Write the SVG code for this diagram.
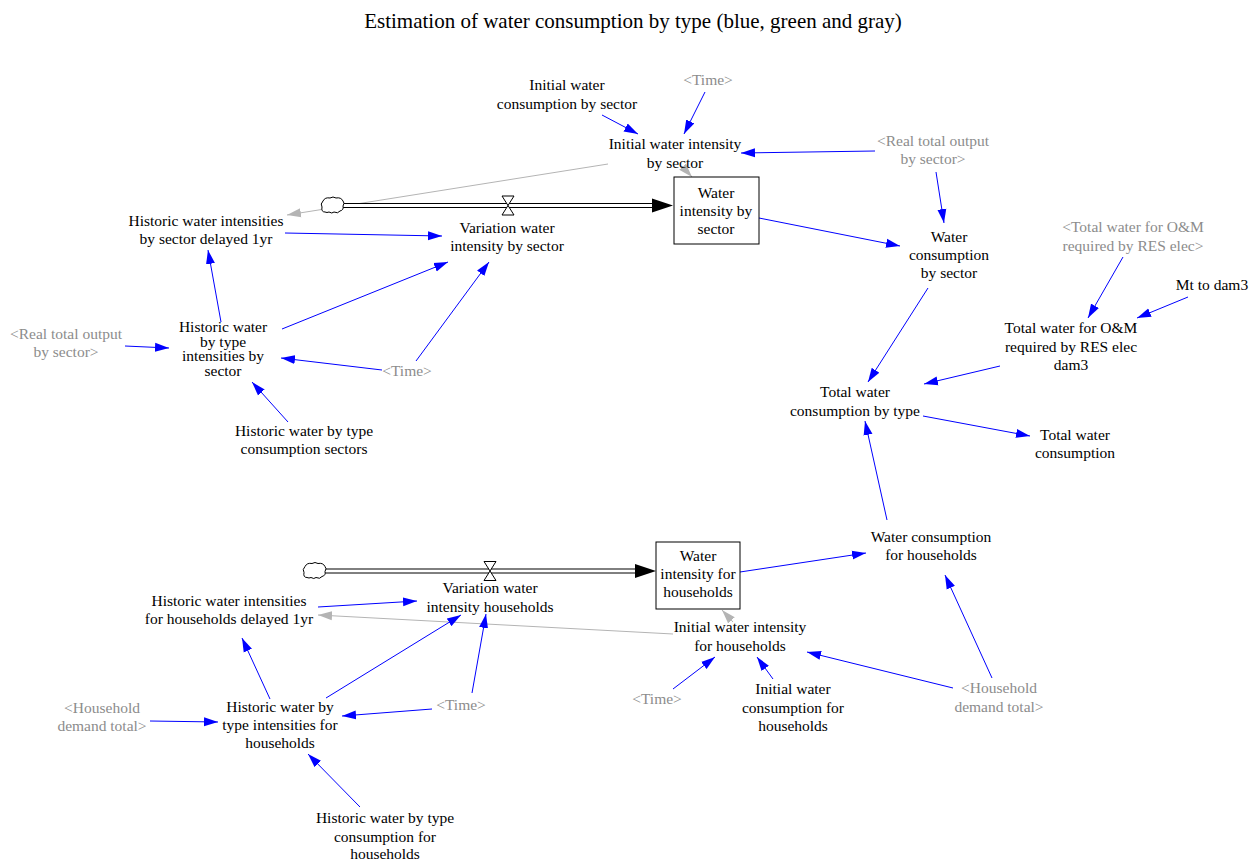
<svg xmlns="http://www.w3.org/2000/svg" width="1256" height="861" viewBox="0 0 1256 861">
<defs>
<style>
text{font-family:"Liberation Serif","Times New Roman",serif;font-size:15.5px;fill:#000;text-anchor:middle}
text.g{fill:#8c8c8c}
text.title{font-size:21px}
.c{stroke:#0000ff;stroke-width:1;fill:none;marker-end:url(#ab)}
.cg{stroke:#b4b4b4;stroke-width:1;fill:none;marker-end:url(#ag)}
.pipeo{stroke:#000;stroke-width:5;fill:none}
.pipei{stroke:#fff;stroke-width:3;fill:none}
.head{fill:#000;stroke:none}
.stock{fill:#fff;stroke:#000;stroke-width:1}
.valve{fill:#fff;stroke:#000;stroke-width:1}
.cloud{fill:#fff;stroke:#000;stroke-width:1}
</style>
<marker id="ab" markerUnits="userSpaceOnUse" markerWidth="15" markerHeight="10" refX="14" refY="5" orient="auto"><path d="M0,0.5 L14,5 L0,9.5 z" fill="#0000ff"/></marker>
<marker id="ag" markerUnits="userSpaceOnUse" markerWidth="15" markerHeight="10" refX="14" refY="5" orient="auto"><path d="M0,0.5 L14,5 L0,9.5 z" fill="#b4b4b4"/></marker>
</defs>
<rect width="1256" height="861" fill="#fff"/>
<text class="title" x="633" y="28">Estimation of water consumption by type (blue, green and gray)</text>

<g id="connectors">
<line class="c" x1="602" y1="115" x2="638" y2="134"/>
<line class="c" x1="705" y1="92" x2="684" y2="134"/>
<line class="c" x1="875" y1="151" x2="741" y2="153"/>
<line class="cg" x1="682" y1="166" x2="692" y2="177"/>
<line class="cg" x1="608" y1="164" x2="287" y2="215"/>
<line class="c" x1="285" y1="233" x2="442" y2="236"/>
<line class="c" x1="282" y1="329" x2="448" y2="262"/>
<line class="c" x1="416" y1="361" x2="489" y2="262"/>
<line class="c" x1="382" y1="370" x2="281" y2="358"/>
<line class="c" x1="221" y1="322" x2="208" y2="250"/>
<line class="c" x1="125" y1="346" x2="169" y2="348"/>
<line class="c" x1="288" y1="422" x2="252" y2="382"/>
<line class="c" x1="759" y1="218" x2="900" y2="246"/>
<line class="c" x1="936" y1="172" x2="944" y2="223"/>
<line class="c" x1="928" y1="288" x2="868" y2="382"/>
<line class="c" x1="1123" y1="257" x2="1088" y2="318"/>
<line class="c" x1="1188" y1="297" x2="1137" y2="318"/>
<line class="c" x1="1000" y1="366" x2="924" y2="384"/>
<line class="c" x1="923" y1="416" x2="1030" y2="436"/>
<line class="c" x1="887" y1="520" x2="865" y2="421"/>
<line class="c" x1="740" y1="572" x2="866" y2="553"/>
<line class="c" x1="992" y1="678" x2="945" y2="575"/>
<line class="c" x1="953" y1="688" x2="807" y2="652"/>
<line class="c" x1="773" y1="679" x2="757" y2="657"/>
<line class="c" x1="673" y1="689" x2="715" y2="657"/>
<line class="cg" x1="733" y1="622" x2="722" y2="610"/>
<line class="cg" x1="673" y1="634" x2="318" y2="615"/>
<line class="c" x1="318" y1="607" x2="417" y2="601"/>
<line class="c" x1="326" y1="698" x2="461" y2="615"/>
<line class="c" x1="472" y1="693" x2="486" y2="614"/>
<line class="c" x1="432" y1="709" x2="342" y2="716"/>
<line class="c" x1="270" y1="699" x2="242" y2="638"/>
<line class="c" x1="150" y1="721" x2="218" y2="722"/>
<line class="c" x1="360" y1="807" x2="308" y2="754"/>
</g>

<g id="flow-sector">
<line class="pipeo" x1="343" y1="205.5" x2="653" y2="205.5"/>
<line class="pipei" x1="342" y1="205.5" x2="653" y2="205.5"/>
<path class="head" d="M652,198.5 L673,205.5 L652,212.5 z"/>
<path class="cloud" d="M325,212 q-4,0 -3,-5 q-2,-3 1,-6 q2,-4 7,-3 q3,-2 6,0 q5,-1 7,3 q2,2 0,5 q1,4 -3,5 q-2,3 -6,1 q-2,2 -5,0 q-2,1 -4,0 z"/>
<path class="valve" d="M502,196 L514,196 L508,205.5 z M502,215 L514,215 L508,205.5 z"/>
</g>

<g id="flow-households">
<line class="pipeo" x1="325" y1="571" x2="636" y2="571"/>
<line class="pipei" x1="324" y1="571" x2="636" y2="571"/>
<path class="head" d="M635,564 L656,571 L635,578 z"/>
<path class="cloud" d="M307,577.5 q-4,0 -3,-5 q-2,-3 1,-6 q2,-4 7,-3 q3,-2 6,0 q5,-1 7,3 q2,2 0,5 q1,4 -3,5 q-2,3 -6,1 q-2,2 -5,0 q-2,1 -4,0 z"/>
<path class="valve" d="M484,561.5 L496,561.5 L490,571 z M484,580.5 L496,580.5 L490,571 z"/>
</g>

<g id="water-intensity-by-sector">
<rect class="stock" x="674" y="177" width="85" height="67"/>
<text x="716" y="198">Water<tspan x="716" dy="18">intensity by</tspan><tspan x="716" dy="18">sector</tspan></text>
</g>
<g id="water-intensity-households">
<rect class="stock" x="656" y="542" width="84" height="67"/>
<text x="698" y="561">Water<tspan x="698" dy="18">intensity for</tspan><tspan x="698" dy="18">households</tspan></text>
</g>

<g id="initial-water-consumption-by-sector"><text x="567" y="90">Initial water<tspan x="567" dy="19">consumption by sector</tspan></text></g>
<g id="time-top"><text class="g" x="708" y="85">&lt;Time&gt;</text></g>
<g id="initial-water-intensity-by-sector"><text x="675" y="149">Initial water intensity<tspan x="675" dy="19">by sector</tspan></text></g>
<g id="real-total-output-top"><text class="g" x="933" y="146">&lt;Real total output<tspan x="933" dy="18">by sector&gt;</tspan></text></g>
<g id="variation-water-intensity-by-sector"><text x="507" y="233">Variation water<tspan x="507" dy="18">intensity by sector</tspan></text></g>
<g id="historic-intensities-delayed-sector"><text x="206" y="226">Historic water intensities<tspan x="206" dy="18">by sector delayed 1yr</tspan></text></g>
<g id="historic-by-type-intensities-sector"><text x="223" y="332">Historic water<tspan x="223" dy="14.5">by type</tspan><tspan x="223" dy="14.5">intensities by</tspan><tspan x="223" dy="14.5">sector</tspan></text></g>
<g id="real-total-output-left"><text class="g" x="66" y="339">&lt;Real total output<tspan x="66" dy="18">by sector&gt;</tspan></text></g>
<g id="time-mid"><text class="g" x="407" y="376">&lt;Time&gt;</text></g>
<g id="historic-consumption-sectors"><text x="304" y="436">Historic water by type<tspan x="304" dy="18">consumption sectors</tspan></text></g>
<g id="water-consumption-by-sector"><text x="949" y="242">Water<tspan x="949" dy="18">consumption</tspan><tspan x="949" dy="18">by sector</tspan></text></g>
<g id="total-water-om-shadow"><text class="g" x="1133" y="232">&lt;Total water for O&amp;M<tspan x="1133" dy="19">required by RES elec&gt;</tspan></text></g>
<g id="mt-to-dam3"><text x="1212" y="290">Mt to dam3</text></g>
<g id="total-water-om-dam3"><text x="1071" y="333">Total water for O&amp;M<tspan x="1071" dy="19">required by RES elec</tspan><tspan x="1071" dy="18">dam3</tspan></text></g>
<g id="total-water-consumption-by-type"><text x="855" y="397">Total water<tspan x="855" dy="19">consumption by type</tspan></text></g>
<g id="total-water-consumption"><text x="1075" y="440">Total water<tspan x="1075" dy="18">consumption</tspan></text></g>
<g id="water-consumption-households"><text x="931" y="542">Water consumption<tspan x="931" dy="18">for households</tspan></text></g>
<g id="variation-water-intensity-households"><text x="490" y="593">Variation water<tspan x="490" dy="19">intensity households</tspan></text></g>
<g id="historic-intensities-delayed-households"><text x="229" y="606">Historic water intensities<tspan x="229" dy="18">for households delayed 1yr</tspan></text></g>
<g id="initial-water-intensity-households"><text x="740" y="632">Initial water intensity<tspan x="740" dy="19">for households</tspan></text></g>
<g id="time-right-low"><text class="g" x="657" y="704">&lt;Time&gt;</text></g>
<g id="initial-water-consumption-households"><text x="793" y="694">Initial water<tspan x="793" dy="19">consumption for</tspan><tspan x="793" dy="18">households</tspan></text></g>
<g id="household-demand-right"><text class="g" x="999" y="693">&lt;Household<tspan x="999" dy="19">demand total&gt;</tspan></text></g>
<g id="household-demand-left"><text class="g" x="102" y="713">&lt;Household<tspan x="102" dy="18">demand total&gt;</tspan></text></g>
<g id="time-left-low"><text class="g" x="461" y="710">&lt;Time&gt;</text></g>
<g id="historic-by-type-intensities-households"><text x="280" y="712">Historic water by<tspan x="280" dy="18">type intensities for</tspan><tspan x="280" dy="18">households</tspan></text></g>
<g id="historic-consumption-households"><text x="385" y="823">Historic water by type<tspan x="385" dy="18.5">consumption for</tspan><tspan x="385" dy="17.5">households</tspan></text></g>
</svg>
